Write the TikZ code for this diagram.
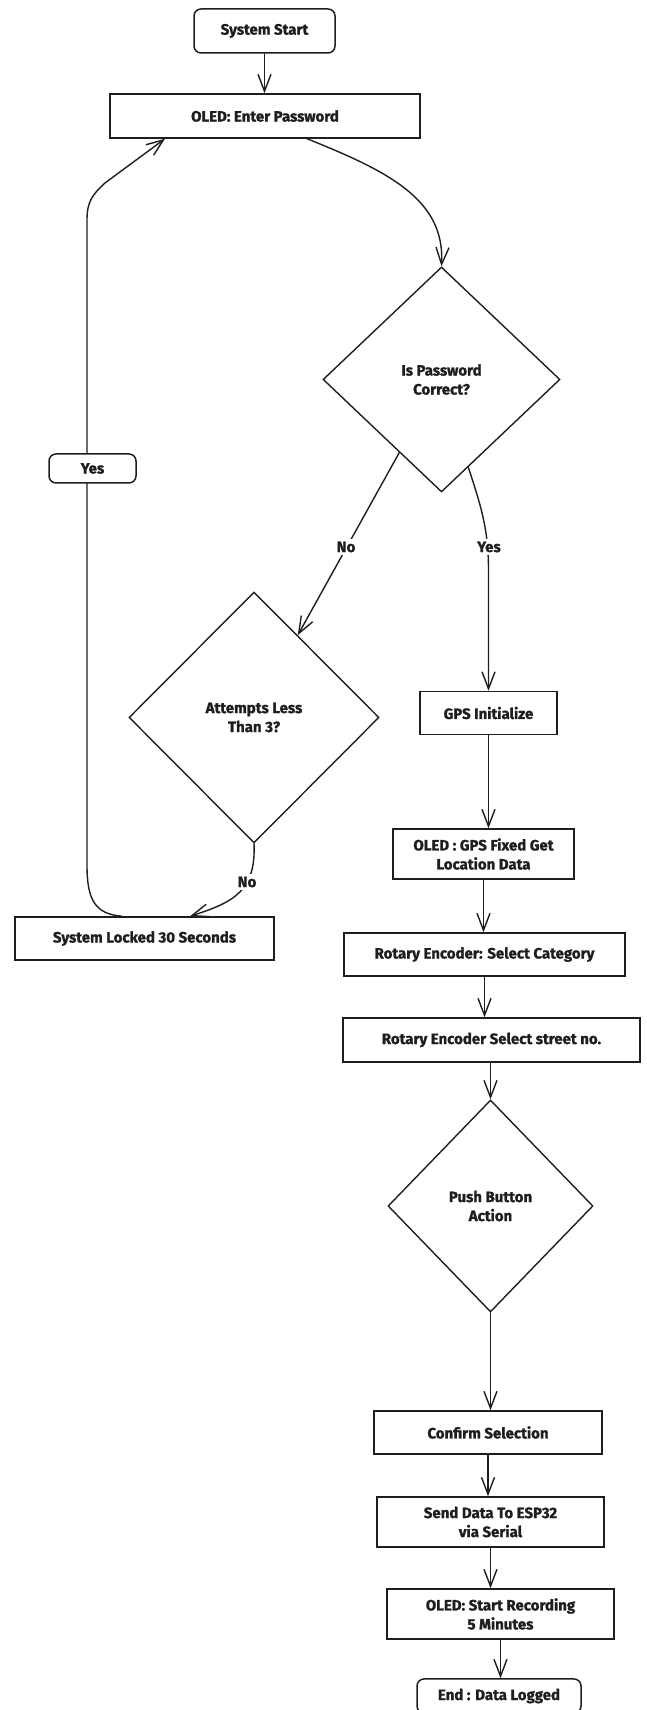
\documentclass[tikz,border=0pt]{standalone}
\usepackage{fontspec}
\setmainfont{Fira Sans}[BoldFeatures={FakeBold=1.2}]
\usepackage{xcolor}
\usetikzlibrary{shapes.geometric,arrows.meta,calc}
\definecolor{inkgray}{RGB}{30,30,30}

\begin{document}
\begin{tikzpicture}[x=1pt, y=1pt,
    box/.style={rectangle, draw=inkgray, line width=1.5pt, inner sep=2pt, align=center, text=inkgray, font=\fontsize{15}{19}\selectfont\bfseries},
    term/.style={box, rounded corners=7pt},
    decision/.style={diamond, draw=inkgray, line width=1.4pt, inner sep=0pt, align=center, text=inkgray, font=\fontsize{15}{19}\selectfont\bfseries},
    lbl/.style={fill=white, inner sep=3pt, text=inkgray, font=\fontsize{15}{19}\selectfont\bfseries},
    flow/.style={draw=inkgray, line width=1.4pt, line cap=round, -{Straight Barb[length=17pt, width=13pt, line width=1.4pt]}}
]
\useasboundingbox (0,0) rectangle (646,1710);

% PASSWORD CHECK
\node[term, minimum width=141pt, minimum height=44pt] (start) at (264.5,1679) {System Start};
\node[box, minimum width=310pt, minimum height=44pt] (pwd) at (265,1594) {OLED: Enter Password};
\node[decision, minimum width=237pt, minimum height=225pt] (check) at (441.5,1330.5) {Is Password\\Correct?};

% LOCK BRANCH
\node[decision, minimum width=250pt, minimum height=251pt] (att) at (254,992.5) {Attempts Less\\Than 3?};
\node[box, minimum width=259pt, minimum height=43pt] (locked) at (144.5,771.5) {System Locked 30 Seconds};

% GPS AND SELECTION
\node[box, minimum width=137pt, minimum height=43pt] (gps) at (488.5,997) {GPS Initialize};
\node[box, minimum width=181pt, minimum height=50pt] (gfix) at (483.5,856) {OLED : GPS Fixed Get\\Location Data};
\node[box, minimum width=281pt, minimum height=43pt] (cat) at (484.5,755.5) {Rotary Encoder: Select Category};
\node[box, minimum width=297pt, minimum height=44pt] (street) at (491.5,670) {Rotary Encoder Select street no.};
\node[decision, minimum width=205pt, minimum height=212pt] (push) at (490.5,504) {Push Button\\Action};

% SEND AND RECORD
\node[box, minimum width=228pt, minimum height=43pt] (confirm) at (488,277.5) {Confirm Selection};
\node[box, minimum width=227pt, minimum height=50pt] (send) at (490.5,188) {Send Data To ESP32\\via Serial};
\node[box, minimum width=227pt, minimum height=50pt] (rec) at (500.5,96) {OLED: Start Recording\\5 Minutes};
\node[term, minimum width=164pt, minimum height=34pt] (finish) at (499,14) {End : Data Logged};

% Connectors
\draw[flow] (start.south) -- (start.south |- pwd.north);
\draw[flow] ([xshift=42pt]pwd.south) .. controls (390,1538) and (445,1510) .. (check.north);
\draw[flow] (check.240) -- (att.62);
\draw[flow] (check.287) to[out=-72, in=90] (488.5,1140) -- (gps.north);
\draw[flow] (att.south) .. controls (256,820) and (235,808) .. ([xshift=45.5pt]locked.north);
\draw[flow] ([xshift=-22.5pt]locked.north) .. controls (95,796) and (87,810) .. (87,845) -- (87,1490) .. controls (87,1508) and (92,1515) .. (105,1527) -- ([xshift=-100pt]pwd.south);
\draw[flow] (gps.south) -- (gps.south |- gfix.north);
\draw[flow] (gfix.south) -- (gfix.south |- cat.north);
\draw[flow] (cat.south) -- (cat.south |- street.north);
\draw[flow] (push.north |- street.south) -- (push.north);
\draw[flow] (push.south) -- (push.south |- confirm.north);
\draw[flow] (confirm.south) -- (confirm.south |- send.north);
\draw[flow] (send.south) -- (send.south |- rec.north);
\draw[flow] (rec.south) -- (rec.south |- finish.north);

% Edge labels
\node[lbl] (no1) at (346,1163) {No};
\node[lbl] (yes1) at (489,1163) {Yes};
\node[lbl] (no2) at (247,828) {No};
\node[term, fill=white, minimum width=87pt, minimum height=29pt] (yesloop) at (92.5,1241.5) {Yes};

\end{tikzpicture}
\end{document}
